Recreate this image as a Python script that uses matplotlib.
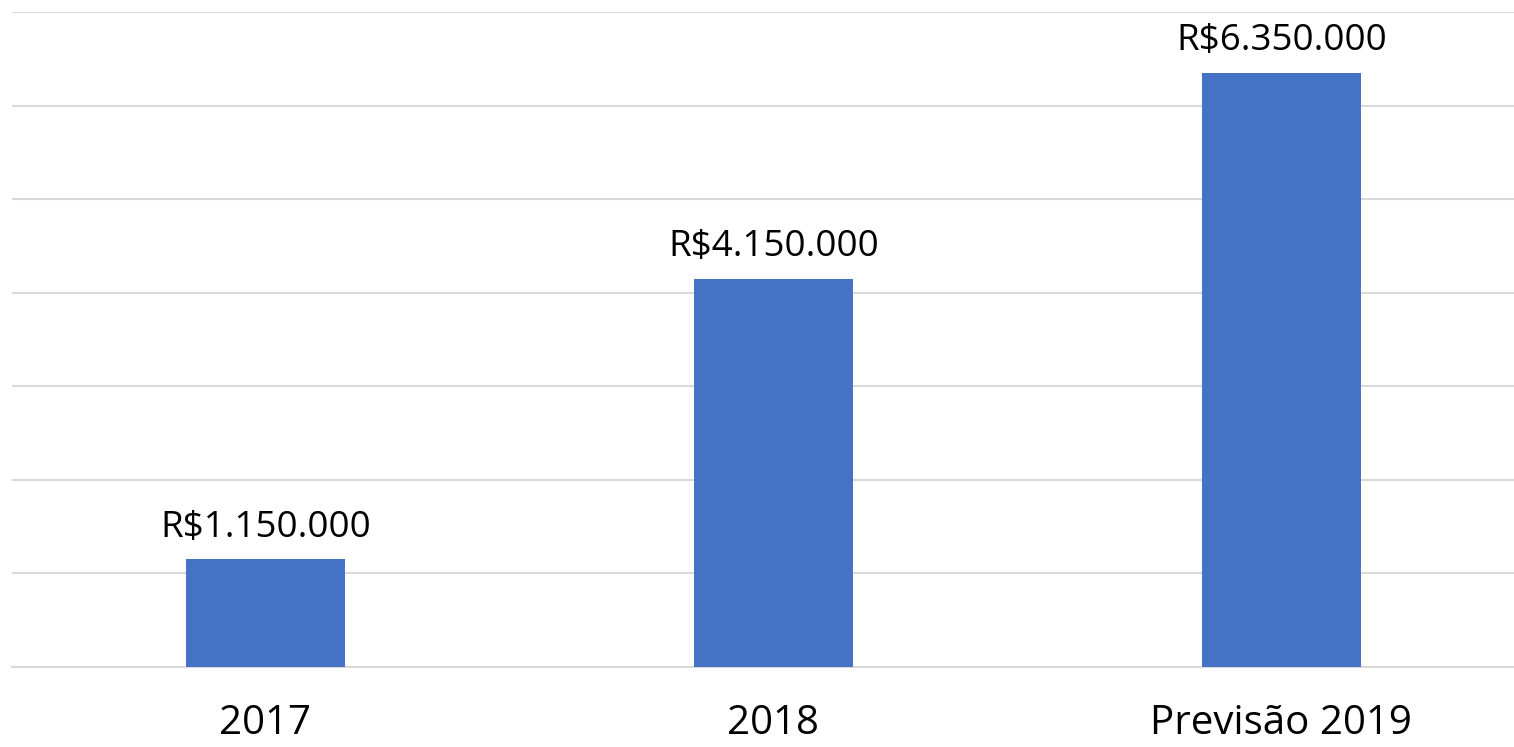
import matplotlib.pyplot as plt
from matplotlib.ticker import MultipleLocator

## --- Data ---
categories = ["2017", "2018", "Previsão 2019"]
values = [1150000, 4150000, 6350000]
labels = ["R$1.150.000", "R$4.150.000", "R$6.350.000"]

## --- Style ---
BAR_COLOR = "#4472C4"
GRID_COLOR = "#d9d9d9"
FONT = "Open Sans"

plt.rcParams["font.family"] = [FONT, "DejaVu Sans"]

fig = plt.figure(figsize=(15.14, 7.47), dpi=100)
# axes spans from x=12px to the right edge, y from baseline 667px to top 12px
ax = fig.add_axes([12 / 1514, 1 - 667 / 747, 1 - 12 / 1514, (667 - 12) / 747])

x = range(len(categories))
bars = ax.bar(x, values, width=0.313, color=BAR_COLOR, zorder=3)

ax.set_xlim(-0.499, 2.458)
ax.set_ylim(0, 7000000)
ax.yaxis.set_major_locator(MultipleLocator(1000000))
ax.grid(axis="y", color=GRID_COLOR, linewidth=1.5, zorder=0)
ax.set_yticklabels([])
ax.tick_params(axis="y", length=0)

ax.set_xticks(list(x))
ax.set_xticklabels(categories, fontsize=29)
ax.tick_params(axis="x", length=0, pad=26)

for side in ["top", "right", "left"]:
    ax.spines[side].set_visible(False)
ax.spines["bottom"].set_color(GRID_COLOR)
ax.spines["bottom"].set_linewidth(1.5)

for b, lab in zip(bars, labels):
    ax.annotate(lab, (b.get_x() + b.get_width() / 2, b.get_height()),
                xytext=(0, 10), textcoords="offset points",
                ha="center", va="bottom", fontsize=26.5)

fig.savefig("out.png", dpi=100)
